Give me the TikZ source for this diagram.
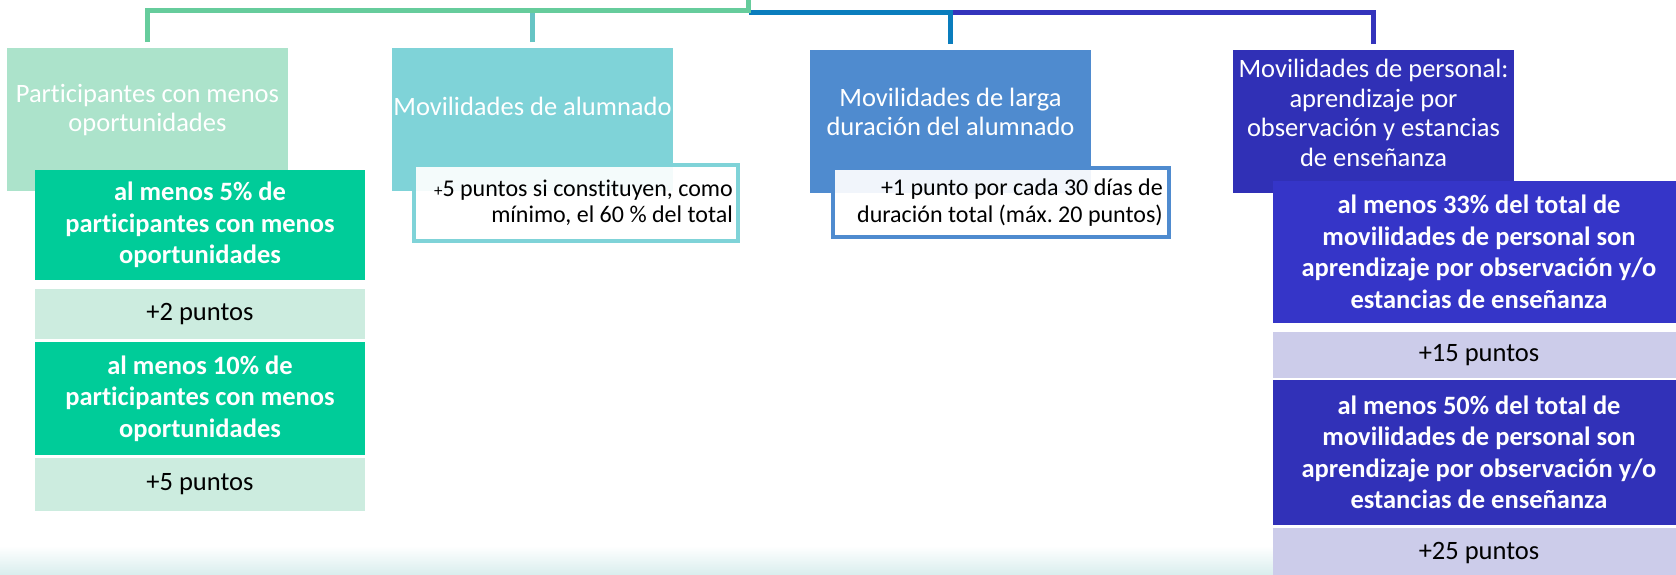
\documentclass[tikz,border=0pt]{standalone}
\usepackage{fontspec}
\setmainfont{Carlito}[Ligatures=NoCommon]
\frenchspacing
\definecolor{cgreen}{HTML}{66CC9C}
\definecolor{cteal}{HTML}{66C4C4}
\definecolor{cblue}{HTML}{0A7DBD}
\definecolor{cpurple}{HTML}{3434BC}
\definecolor{bxone}{HTML}{ACE3CB}
\definecolor{bxonedark}{HTML}{00CC99}
\definecolor{bxonelight}{HTML}{CCECDF}
\definecolor{bxtwo}{HTML}{7FD3D8}
\definecolor{bxthree}{HTML}{4F8BCF}
\definecolor{bxfour}{HTML}{3030B6}
\definecolor{bxfourdark}{HTML}{3535C8}
\definecolor{bxfourdarkb}{HTML}{3131B8}
\definecolor{bxfourlight}{HTML}{CCCCEA}
\definecolor{bgteal}{HTML}{DAEEEE}
\begin{document}
\begin{tikzpicture}[x=1pt,y=-1pt,
  bx/.style={anchor=north west, inner sep=0pt, outer sep=0pt, draw=none},
  ttl/.style={text=white, align=center, inner sep=0pt, font=\fontsize{26.5}{29.5}\selectfont},
  crit/.style={text=white, align=center, font=\bfseries\fontsize{26.5}{31.5}\selectfont},
  pts/.style={text=black, align=center, font=\fontsize{26.5}{31.5}\selectfont},
  note/.style={anchor=north west, outer sep=0pt, inner sep=0pt, line width=4pt, fill=white, fill opacity=0.92},
  notetext/.style={anchor=east, inner sep=0pt, align=right, text=black, font=\fontsize{24}{26.5}\selectfont},
  conn/.style={line width=5pt}
]
\useasboundingbox (0,0) rectangle (1676,574);
\clip (0,0) rectangle (1676,574);
\shade[top color=white, bottom color=bgteal, draw=none] (0,546) rectangle (1676,574);

% parent boxes
\node[bx, fill=bxone, minimum width=281pt, minimum height=143pt] (b1) at (7,48) {};
\node[bx, fill=bxtwo, minimum width=281pt, minimum height=143pt] (b2) at (392,48) {};
\node[bx, fill=bxthree, minimum width=281pt, minimum height=143pt] (b3) at (810,50) {};
\node[bx, fill=bxfour, minimum width=281pt, minimum height=143pt] (b4) at (1233,50) {};

\node[ttl] (t1) at (147.5,110) {Participantes con menos\\oportunidades};
\node[ttl] (t2) at (532.5,106) {Movilidades de alumnado};
\node[ttl] (t3) at (950.5,112) {Movilidades de larga\\duración del alumnado};
\node[ttl] (t4) at (1373.5,113) {Movilidades de personal:\\aprendizaje por\\observación y estancias\\de enseñanza};

% connectors
\coordinate (root) at (748.5,0);
\coordinate (busG) at (748.5,10.5);
\coordinate (busB) at (748.5,12.5);
\draw[conn, cpurple] ([yshift=6pt]b4.north) |- (b3.north |- busB);
\draw[conn, cblue] ([yshift=6pt]b3.north) |- (busB);
\draw[conn, cteal] ([yshift=6pt]b2.north) -- (b2.north |- busG);
\draw[conn, cgreen] ([yshift=6pt]b1.north) |- (busG) -- (root);

% branch 1
\node[bx, fill=bxonedark, minimum width=330pt, minimum height=110pt, crit] (b1a) at (35,170) {al menos 5\% de\\participantes con menos\\oportunidades};
\node[bx, fill=bxonelight, minimum width=330pt, minimum height=50pt, pts] (b1b) at (35,289) {+2 puntos};
\node[bx, fill=bxonedark, minimum width=330pt, minimum height=113pt, crit] (b1c) at (35,342) {al menos 10\% de\\participantes con menos\\oportunidades};
\node[bx, fill=bxonelight, minimum width=330pt, minimum height=53pt, pts] (b1d) at (35,458) {+5 puntos};

% branch 2
\node[note, draw=bxtwo, minimum width=324pt, minimum height=76pt] (b2a) at (414,165) {};
\node[notetext] (n2a) at ([xshift=-5pt]b2a.east) {{\fontsize{17}{17}\selectfont +}5 puntos si constituyen, como\\mínimo, el 60 \% del total};

% branch 3
\node[note, draw=bxthree, minimum width=336pt, minimum height=69pt] (b3a) at (833,168) {};
\node[notetext] (n3a) at ([xshift=-6pt]b3a.east) {+1 punto por cada 30 días de\\duración total (máx. 20 puntos)};

% branch 4
\node[bx, fill=bxfourdark, minimum width=412pt, minimum height=142pt, crit] (b4a) at (1273,181) {al menos 33\% del total de\\movilidades de personal son\\aprendizaje por observación y/o\\estancias de enseñanza};
\node[bx, fill=bxfourlight, minimum width=412pt, minimum height=46pt, pts] (b4b) at (1273,332) {+15 puntos};
\node[bx, fill=bxfourdarkb, minimum width=412pt, minimum height=145pt, crit] (b4c) at (1273,380) {al menos 50\% del total de\\movilidades de personal son\\aprendizaje por observación y/o\\estancias de enseñanza};
\node[bx, fill=bxfourlight, minimum width=412pt, minimum height=50pt, pts] (b4d) at (1273,528) {+25 puntos};
\end{tikzpicture}
\end{document}
